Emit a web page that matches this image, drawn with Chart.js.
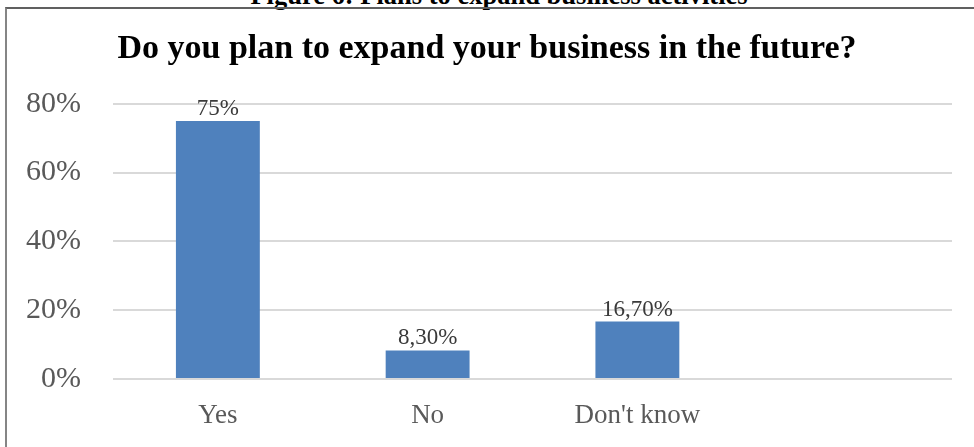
<!DOCTYPE html>
<html>
<head>
<meta charset="utf-8">
<script src="https://cdn.jsdelivr.net/npm/chart.js@4.4.1/dist/chart.umd.min.js"></script>
<style>
  html, body { margin: 0; padding: 0; background: #fff; overflow: hidden; }
  body { width: 974px; height: 447px; position: relative; }
  #caption {
    position: absolute; left: 0; width: 998px; top: -18px;
    text-align: center; font: bold 26.5px 'Liberation Serif', serif; line-height: 26.5px; color: #000;
    white-space: nowrap;
  }
  #frame {
    position: absolute; left: 5px; top: 7px; width: 1000px; height: 500px;
    border-left: 2px solid #858585; border-top: 2px solid #606060;
  }
  #wrap { position: absolute; left: 0; top: 0; width: 974px; height: 447px; }
</style>
</head>
<body>
<div id="caption">Figure 6: Plans to expand business activities</div>
<div id="frame"></div>
<div id="wrap"><canvas id="chart"></canvas></div>
<script>
// Plans to expand business - survey answers
const categories = ['Yes', 'No', "Don't know", ''];
const shares = [75, 8.3, 16.7, null];
const shareLabels = ['75%', '8,30%', '16,70%', ''];
const yTicks = [0, 20, 40, 60, 80];

// draws the value text above each bar
const barValueLabels = {
  id: 'barValueLabels',
  afterDatasetsDraw(chart) {
    const ctx = chart.ctx;
    const meta = chart.getDatasetMeta(0);
    ctx.save();
    ctx.font = "23px 'Liberation Serif', serif";
    ctx.fillStyle = '#3a3a3a';
    ctx.textAlign = 'center';
    ctx.textBaseline = 'middle';
    meta.data.forEach((bar, i) => {
      if (shares[i] == null) return;
      ctx.fillText(shareLabels[i], bar.x, bar.y - 12);
    });
    ctx.restore();
  }
};

document.addEventListener('DOMContentLoaded', () => {
  const ctx = document.getElementById('chart');
  new Chart(ctx, {
    type: 'bar',
    data: {
      labels: categories,
      datasets: [{
        data: shares,
        backgroundColor: '#4f81bd',
        borderWidth: 0,
        barPercentage: 0.4,
        categoryPercentage: 1.0
      }]
    },
    options: {
      responsive: true,
      maintainAspectRatio: false,
      animation: false,
      layout: { padding: { left: 22, right: 22, top: 0, bottom: 0 } },
      plugins: {
        legend: { display: false },
        tooltip: { enabled: false },
        title: {
          display: true,
          text: 'Do you plan to expand your business in the future?',
          color: '#000',
          font: { family: "'Liberation Serif', serif", size: 34, weight: 'bold', lineHeight: 1.2 },
          padding: { top: 29, bottom: 34 }
        }
      },
      scales: {
        x: {
          grid: { display: false, drawTicks: false },
          border: { display: false },
          ticks: {
            color: '#595959',
            padding: 21,
            font: { family: "'Liberation Serif', serif", size: 27 }
          },
          afterFit(scale) { scale.height = 68; }
        },
        y: {
          min: 0,
          max: 80,
          afterBuildTicks(scale) { scale.ticks = yTicks.map(v => ({ value: v })); },
          grid: { color: '#d9d9d9', lineWidth: 2, drawTicks: false },
          border: { display: false },
          ticks: {
            color: '#595959',
            padding: 32,
            font: { family: "'Liberation Serif', serif", size: 30 },
            callback: v => v + '%'
          },
          afterFit(scale) { scale.width = 91; }
        }
      }
    },
    plugins: [barValueLabels]
  });
});
</script>
</body>
</html>
